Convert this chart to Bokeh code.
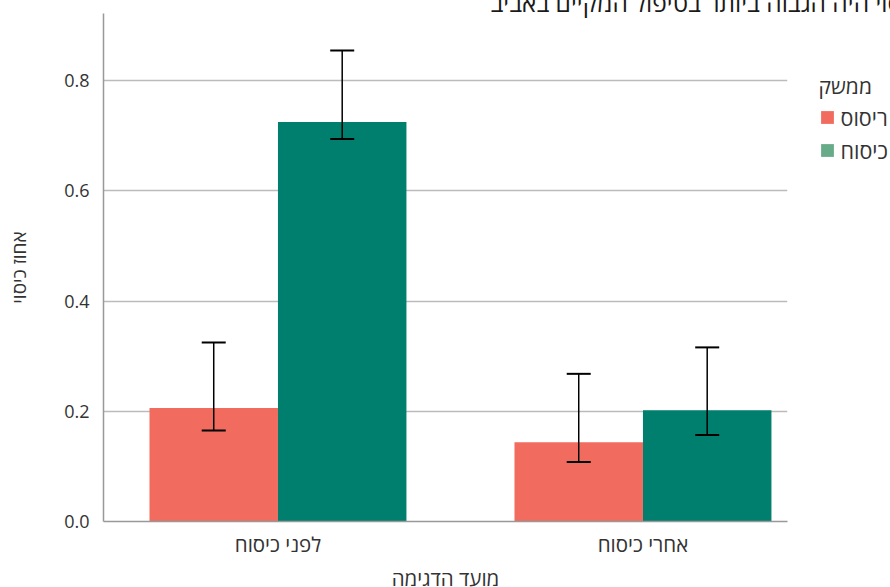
import numpy as np
from bokeh.plotting import figure
from bokeh.models import (Range1d, FixedTicker, NumeralTickFormatter, Whisker,
                          ColumnDataSource, Legend, LegendItem, TeeHead)
from bokeh.embed import file_html
from bokeh.resources import INLINE

# Sampling time (x categories) and management treatments (series)
categories = ["לפני כיסוח", "אחרי כיסוח"]
treatments = ["ריסוס", "כיסוח"]

# Mean cover fraction per treatment, one value per sampling time
spray_mean = [0.206, 0.144]
mow_mean = [0.725, 0.202]

# Confidence interval bounds
spray_lower = [0.165, 0.108]
spray_upper = [0.325, 0.268]
mow_lower = [0.694, 0.157]
mow_upper = [0.855, 0.316]

y_ticks = [0.0, 0.2, 0.4, 0.6, 0.8]

title_text = "אחוז הכיסוי היה הגבוה ביותר בטיפול המקיים באביב"
x_title = "מועד הדגימה"
y_title = "אחוז כיסוי"
legend_title = "ממשק"

bar_colors = ["#F26B5F", "#007F6F"]
legend_colors = ["#F26B5F", "#67AC88"]

FONT = "Open Sans"
TEXT = "#333333"

centers = np.arange(len(categories)) + 0.5
bar_w = 0.352
offsets = [-bar_w / 2, bar_w / 2]

p = figure(frame_width=684, frame_height=508,
           min_border_left=103, min_border_right=103,
           min_border_top=13, min_border_bottom=66,
           x_range=Range1d(0.022, 1.896), y_range=Range1d(0, 0.922),
           output_backend="svg", toolbar_location=None)
p.outline_line_color = None
p.background_fill_color = "white"
p.border_fill_color = "white"

# Title runs past the top and right edges of the canvas
p.title.text = title_text
p.title.align = "left"
p.title.offset = 387
p.title.standoff = -56
p.title.vertical_align = "top"
p.title.text_font = FONT
p.title.text_font_size = "24.5px"
p.title.text_font_style = "normal"
p.title.text_color = "#1a1a1a"

series = [(spray_mean, spray_lower, spray_upper),
          (mow_mean, mow_lower, mow_upper)]
for i, (m, lo, hi) in enumerate(series):
    src = ColumnDataSource(dict(x=centers + offsets[i], top=m, lower=lo, upper=hi))
    p.vbar(x="x", top="top", width=bar_w, bottom=0, source=src,
           fill_color=bar_colors[i], line_color=None)
    wh = Whisker(base="x", lower="lower", upper="upper", source=src,
                 level="overlay", line_color="black", line_width=1.5,
                 upper_head=TeeHead(size=24, line_color="black", line_width=2),
                 lower_head=TeeHead(size=24, line_color="black", line_width=2))
    p.add_layout(wh)

# Legend swatches (off-screen placeholder rectangles carrying the key colours)
legend_items = []
for i, name in enumerate(treatments):
    dummy = p.quad(left=[np.nan], right=[np.nan], top=[np.nan], bottom=[np.nan],
                   fill_color=legend_colors[i], line_color=None)
    legend_items.append(LegendItem(label=name, renderers=[dummy]))

legend = Legend(items=legend_items, location=(31.5, 356.5),
                title=legend_title,
                title_text_font=FONT, title_text_font_size="21px",
                title_text_color=TEXT, title_text_font_style="normal",
                title_standoff=3,
                label_text_font=FONT, label_text_font_size="21.5px",
                label_text_color=TEXT,
                glyph_width=16, glyph_height=16, label_standoff=6,
                label_height=24, spacing=4,
                padding=0, margin=0,
                border_line_color=None, background_fill_alpha=0)
p.add_layout(legend, "right")

# Axes
p.xaxis.ticker = FixedTicker(ticks=list(centers))
p.xaxis.major_label_overrides = {float(c): lab for c, lab in zip(centers, categories)}
p.xaxis.major_tick_line_color = None
p.xaxis.minor_tick_line_color = None
p.xaxis.axis_line_color = "#999999"
p.xaxis.axis_line_width = 1.5
p.xaxis.major_label_text_font = FONT
p.xaxis.major_label_text_font_size = "20.5px"
p.xaxis.major_label_text_color = TEXT
p.xaxis.major_label_standoff = 2
p.xaxis.axis_label = x_title
p.xaxis.axis_label_text_font = FONT
p.xaxis.axis_label_text_font_size = "20.5px"
p.xaxis.axis_label_text_font_style = "normal"
p.xaxis.axis_label_text_color = TEXT
p.xaxis.axis_label_standoff = 3

p.yaxis.ticker = FixedTicker(ticks=y_ticks)
p.yaxis.formatter = NumeralTickFormatter(format="0.0")
p.yaxis.major_tick_line_color = None
p.yaxis.minor_tick_line_color = None
p.yaxis.axis_line_color = "#999999"
p.yaxis.axis_line_width = 1.5
p.yaxis.major_label_text_font = FONT
p.yaxis.major_label_text_font_size = "18px"
p.yaxis.major_label_text_color = TEXT
p.yaxis.major_label_standoff = 8
p.yaxis.axis_label = y_title
p.yaxis.axis_label_text_font = FONT
p.yaxis.axis_label_text_font_size = "19px"
p.yaxis.axis_label_text_font_style = "normal"
p.yaxis.axis_label_text_color = TEXT
p.yaxis.axis_label_standoff = 29

p.xgrid.grid_line_color = None
p.ygrid.ticker = FixedTicker(ticks=y_ticks[1:])
p.ygrid.grid_line_color = "#BBBBBB"
p.ygrid.grid_line_width = 1.5

open("out.html", "w").write(file_html(p, INLINE))
